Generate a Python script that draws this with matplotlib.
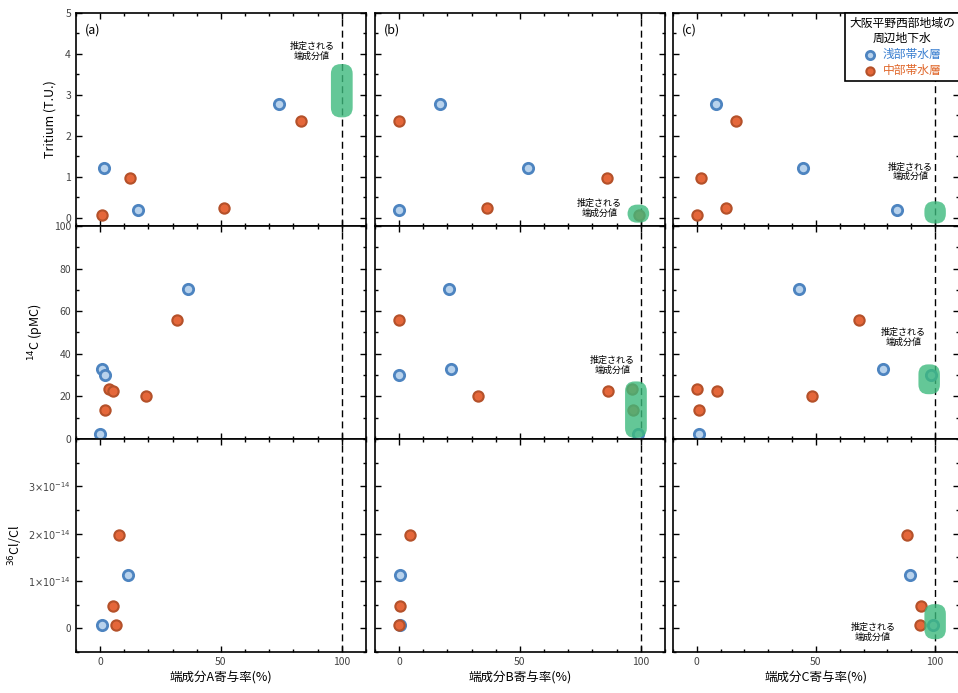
import matplotlib
matplotlib.use('Agg')
import matplotlib.pyplot as plt
from matplotlib.patches import FancyBboxPatch
from matplotlib.ticker import MultipleLocator, FuncFormatter

plt.rcParams['font.family'] = ['Noto Sans CJK JP', 'DejaVu Sans']

# 寄与率 (%) of end members A, B, C for each sample, and measured values
# Tritium (T.U.)
tri_sh_y = [1.22, 0.20, 2.78]
tri_sh_a = [1.4, 15.8, 74.0]
tri_sh_b = [53.3, 0.0, 17.0]
tri_sh_c = [44.6, 84.0, 7.9]
tri_md_y = [0.07, 0.98, 0.24, 2.35]
tri_md_a = [0.7, 12.3, 51.4, 83.0]
tri_md_b = [99.3, 86.0, 36.3, 0.0]
tri_md_c = [0.0, 1.7, 12.2, 16.3]

# 14C (pMC)
c14_sh_y = [70.2, 33.0, 30.0, 2.3]
c14_sh_a = [36.2, 0.7, 2.0, 0.0]
c14_sh_b = [20.7, 21.5, 0.0, 99.0]
c14_sh_c = [42.9, 78.3, 98.3, 0.8]
c14_md_y = [55.8, 23.5, 22.3, 13.5, 20.0]
c14_md_a = [32.0, 3.5, 5.3, 2.0, 19.0]
c14_md_b = [0.0, 96.5, 86.4, 96.7, 32.6]
c14_md_c = [67.9, 0.0, 8.3, 0.8, 48.3]

# 36Cl/Cl (x1e-14)
cl_sh_y = [1.12, 0.08]
cl_sh_a = [11.5, 0.8]
cl_sh_b = [0.4, 0.2]
cl_sh_c = [89.6, 99.0]
cl_md_y = [1.98, 0.47, 0.08]
cl_md_a = [7.8, 5.3, 6.6]
cl_md_b = [4.5, 0.4, 0.0]
cl_md_c = [88.0, 94.0, 93.8]

# estimated end-member values: (row, col, x center, y low, y high)
em_boxes = [
    (0, 0, 100, 2.45, 3.75),
    (0, 1, 99, -0.12, 0.32),
    (0, 2, 100, -0.14, 0.40),
    (1, 1, 98, 0.5, 27.0),
    (1, 2, 97.5, 21.0, 35.0),
    (2, 2, 100, -0.23, 0.51),
]
em_labels = [
    (0, 0, 87.6, 4.07),
    (0, 1, 83.0, 0.24),
    (0, 2, 89.6, 1.12),
    (1, 1, 88.4, 34.4),
    (1, 2, 86.7, 47.9),
    (2, 2, 74.0, -0.09),
]

shallow = {0: (tri_sh_y, [tri_sh_a, tri_sh_b, tri_sh_c]),
           1: (c14_sh_y, [c14_sh_a, c14_sh_b, c14_sh_c]),
           2: (cl_sh_y, [cl_sh_a, cl_sh_b, cl_sh_c])}
middle = {0: (tri_md_y, [tri_md_a, tri_md_b, tri_md_c]),
          1: (c14_md_y, [c14_md_a, c14_md_b, c14_md_c]),
          2: (cl_md_y, [cl_md_a, cl_md_b, cl_md_c])}

ylims = [(-0.2, 5), (0, 100), (-0.5, 4)]
yticks = [[0, 1, 2, 3, 4, 5], [0, 20, 40, 60, 80, 100], [0, 1, 2, 3]]
yminor = [0.5, 10, 0.5]
ylabels = ['Tritium (T.U.)', r'$^{14}$C (pMC)', r'$^{36}$Cl/Cl']
xlabels = ['端成分A寄与率(%)', '端成分B寄与率(%)', '端成分C寄与率(%)']
panel = ['(a)', '(b)', '(c)']

blue_face, blue_edge = '#b8d2ec', '#4d84c0'
orng_face, orng_edge = '#e5673a', '#b4512a'
green = '#3dba7d'

fig = plt.figure(figsize=(9.58, 6.93), dpi=100)
col_left = [0.0793, 0.3914, 0.7025]
col_w = [0.3027, 0.3027, 0.2985]
row_bottom = [0.674, 0.3666, 0.0592]
row_h = 0.3074


def cl_fmt(v, pos):
    if abs(v) < 1e-9:
        return '0'
    return r'$%d{\times}10^{-14}$' % round(v)


axes = [[None] * 3 for _ in range(3)]
for r in range(3):
    for c in range(3):
        ax = fig.add_axes([col_left[c], row_bottom[r], col_w[c], row_h])
        axes[r][c] = ax
        ax.set_xlim(-10, 110)
        ax.set_ylim(*ylims[r])
        ax.set_xticks([0, 50, 100])
        ax.xaxis.set_minor_locator(MultipleLocator(10))
        ax.set_yticks(yticks[r])
        ax.yaxis.set_minor_locator(MultipleLocator(yminor[r]))
        ax.tick_params(which='both', direction='in', top=True, right=True,
                       labelsize=7.5, labelcolor='#444444', width=1)
        ax.tick_params(which='major', length=4)
        ax.tick_params(which='minor', length=2)
        for s in ax.spines.values():
            s.set_linewidth(1.2)
        if r == 2:
            ax.set_xlabel(xlabels[c], fontsize=9, labelpad=3)
        else:
            ax.tick_params(labelbottom=False)
        if c == 0:
            if r == 2:
                ax.yaxis.set_major_formatter(FuncFormatter(cl_fmt))
                ax.tick_params(axis='y', labelsize=7)
                ax.set_ylabel(ylabels[r], fontsize=9, labelpad=2)
            else:
                ax.set_ylabel(ylabels[r], fontsize=9, labelpad=6)
        else:
            ax.tick_params(labelleft=False)

        ax.axvline(100, color='black', lw=1, ls=(0, (5, 3)), zorder=1)

        ys, xs = shallow[r]
        ax.scatter(xs[c], ys, s=55, facecolor=blue_face, edgecolor=blue_edge,
                   linewidth=2, zorder=3, label='浅部帯水層')
        ys, xs = middle[r]
        ax.scatter(xs[c], ys, s=55, facecolor=orng_face, edgecolor=orng_edge,
                   linewidth=1.5, zorder=3, label='中部帯水層')

        if r == 0:
            ax.text(0.03, 0.95, panel[c], transform=ax.transAxes, fontsize=9,
                    va='top', ha='left')

# px per unit in x / px per unit in y, for rounding the boxes
aspects = [2.42 / 41.0, 2.42 / 2.15, 2.42 / 47.0]
for r, c, xc, ylo, yhi in em_boxes:
    w = 9
    box = FancyBboxPatch((xc - w / 2, ylo), w, yhi - ylo,
                         boxstyle='round,pad=0,rounding_size=4',
                         mutation_aspect=aspects[r],
                         facecolor=green, edgecolor='none', alpha=0.8, zorder=4)
    axes[r][c].add_patch(box)

for r, c, tx, ty in em_labels:
    axes[r][c].text(tx, ty, '推定される\n端成分値', fontsize=6.5, ha='center',
                    va='center', linespacing=1.1, zorder=5)

leg = axes[0][2].legend(loc='upper right', borderaxespad=0, fontsize=8.5,
                        title='大阪平野西部地域の\n周辺地下水', title_fontsize=8.5,
                        alignment='center', fancybox=False, edgecolor='black',
                        framealpha=1, markerscale=0.8, handlelength=1.2,
                        handletextpad=0.5, borderpad=0.35, labelspacing=0.25)
leg.get_title().set_multialignment('center')
leg.get_frame().set_linewidth(1.2)
leg.get_texts()[0].set_color('#3a7fd0')
leg.get_texts()[1].set_color('#e0672a')

fig.savefig('out.png', dpi=100)
